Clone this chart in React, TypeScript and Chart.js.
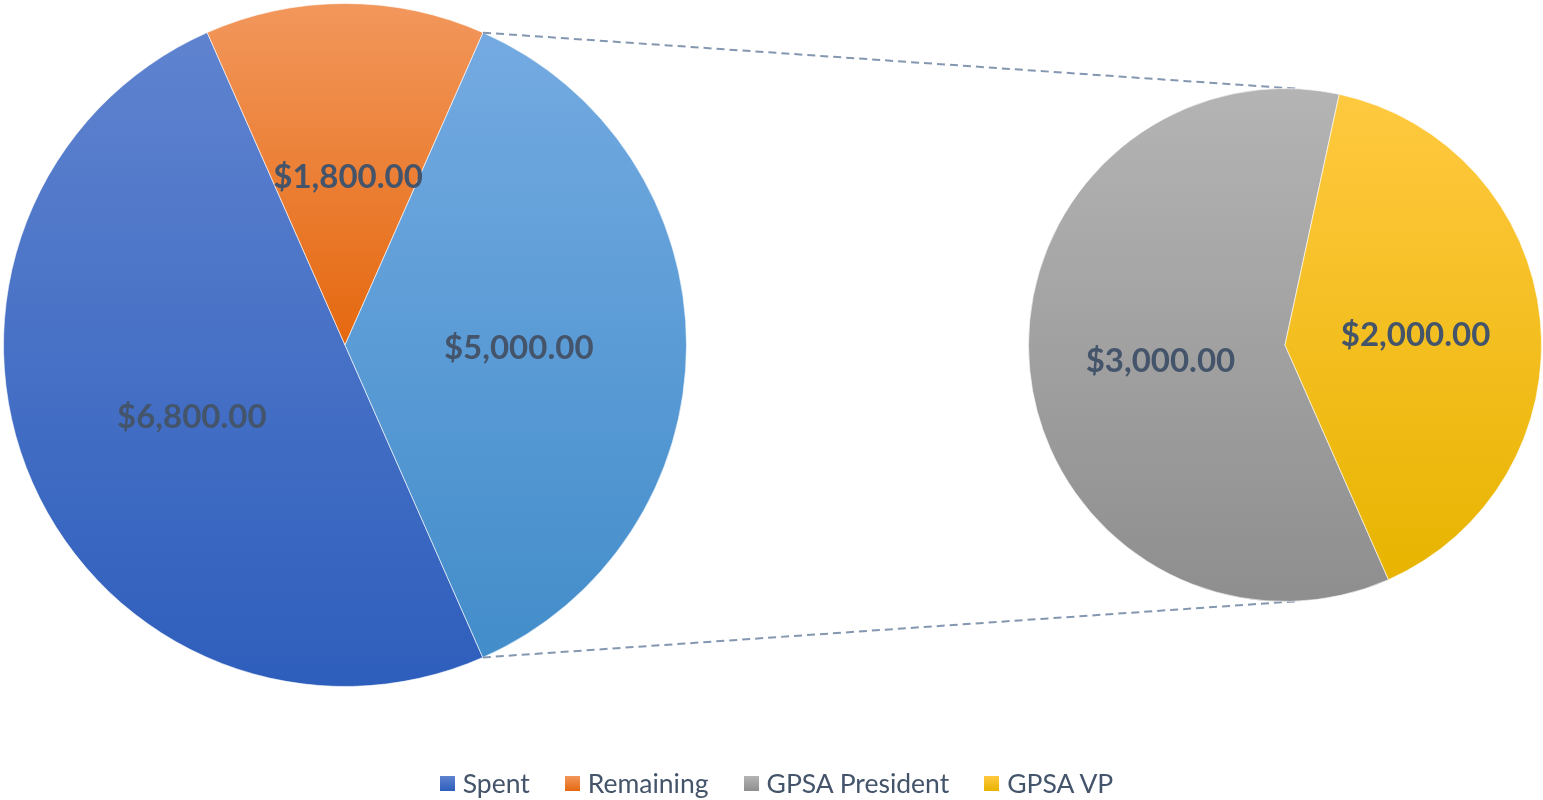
import React, { useEffect, useRef } from "react";
import { Chart, registerables } from "chart.js";

Chart.register(...registerables);

// ---- data ----
const mainLabels = ["Spent", "Remaining", "Other"];
const mainValues = [6800, 1800, 5000];
const subLabels = ["GPSA President", "GPSA VP"];
const subValues = [3000, 2000];
const legendLabels = ["Spent", "Remaining", "GPSA President", "GPSA VP"];

// gradient colours (top, bottom)
const mainColors: [string, string][] = [
  ["#5F83CF", "#2E5EBC"],
  ["#F2975C", "#E5680F"],
  ["#74AAE1", "#428DCA"],
];
const subColors: [string, string][] = [
  ["#B4B4B4", "#8E8E8E"],
  ["#FFC940", "#E8B400"],
];
const legendColors: [string, string][] = [mainColors[0], mainColors[1], subColors[0], subColors[1]];

const W = 1543;
const H = 800;
const ROTATION = 156.2;
const LABEL_COLOR = "#44546A";
const FONT = "Lato, 'Open Sans', sans-serif";

function fmt(v: number) {
  return "$" + v.toLocaleString("en-US", { minimumFractionDigits: 2, maximumFractionDigits: 2 });
}

function sliceGradient(values: number[], colors: [string, string][], rotation: number) {
  return (ctx: any) => {
    const chart = ctx.chart;
    const area = chart.chartArea;
    const i = ctx.dataIndex;
    if (!area || i === undefined) return colors[i ?? 0][0];
    const cx = (area.left + area.right) / 2;
    const cy = (area.top + area.bottom) / 2;
    const r = Math.min(area.right - area.left, area.bottom - area.top) / 2;
    const total = values.reduce((a, b) => a + b, 0);
    let cum = 0;
    for (let k = 0; k < i; k++) cum += values[k];
    const a0 = (rotation * Math.PI) / 180 - Math.PI / 2 + (cum / total) * 2 * Math.PI;
    const a1 = a0 + (values[i] / total) * 2 * Math.PI;
    const ys = [cy, cy + r * Math.sin(a0), cy + r * Math.sin(a1)];
    const contains = (t: number) => {
      let x = t;
      while (x < a0) x += 2 * Math.PI;
      return x <= a1;
    };
    if (contains(Math.PI / 2)) ys.push(cy + r);
    if (contains(-Math.PI / 2)) ys.push(cy - r);
    const y0 = Math.min(...ys);
    const y1 = Math.max(...ys);
    const g = chart.ctx.createLinearGradient(0, y0, 0, y1);
    g.addColorStop(0, colors[i][0]);
    g.addColorStop(1, colors[i][1]);
    return g;
  };
}

const labelPlugin = {
  id: "sliceLabels",
  afterDatasetsDraw(chart: any) {
    const ctx = chart.ctx;
    const meta = chart.getDatasetMeta(0);
    const data = chart.data.datasets[0].data as number[];
    ctx.save();
    ctx.font = `bold 33px ${FONT}`;
    ctx.fillStyle = LABEL_COLOR;
    ctx.textAlign = "center";
    ctx.textBaseline = "middle";
    meta.data.forEach((arc: any, i: number) => {
      const p = arc.getCenterPoint();
      ctx.fillText(fmt(data[i]), p.x + 3, p.y + 3);
    });
    ctx.restore();
  },
};

export default function App() {
  const mainRef = useRef<HTMLCanvasElement>(null);
  const subRef = useRef<HTMLCanvasElement>(null);

  useEffect(() => {
    document.body.style.margin = "0";
    const mainChart = new Chart(mainRef.current!, {
      type: "pie",
      data: {
        labels: mainLabels,
        datasets: [
          {
            data: mainValues,
            backgroundColor: sliceGradient(mainValues, mainColors, ROTATION),
            borderColor: "rgba(255,255,255,0.6)",
            borderWidth: 1,
          },
        ],
      },
      options: {
        responsive: false,
        animation: false,
        rotation: ROTATION,
        layout: { padding: { left: 3, top: 3, right: W - 687, bottom: H - 687 } },
        plugins: { legend: { display: false }, tooltip: { enabled: false } },
      },
      plugins: [labelPlugin],
    });

    const connectorPlugin = {
      id: "connectors",
      beforeDatasetsDraw(chart: any) {
        const mMeta = mainChart.getDatasetMeta(0);
        const other: any = mMeta.data[2];
        const sArc: any = chart.getDatasetMeta(0).data[0];
        if (!other || !sArc) return;
        const mx = other.x, my = other.y, mr = other.outerRadius;
        const sx = sArc.x, sy = sArc.y, sr = sArc.outerRadius;
        const off = (3.4 * Math.PI) / 180;
        const starts = [other.startAngle, other.endAngle];
        const ends = [-Math.PI / 2 + off, Math.PI / 2 - off];
        const ctx = chart.ctx;
        ctx.save();
        ctx.strokeStyle = "#8497B0";
        ctx.lineWidth = 2;
        ctx.setLineDash([8, 5]);
        for (let k = 0; k < 2; k++) {
          ctx.beginPath();
          ctx.moveTo(mx + mr * Math.cos(starts[k]), my + mr * Math.sin(starts[k]));
          ctx.lineTo(sx + sr * Math.cos(ends[k]), sy + sr * Math.sin(ends[k]));
          ctx.stroke();
        }
        ctx.restore();
      },
    };

    const subChart = new Chart(subRef.current!, {
      type: "pie",
      data: {
        labels: subLabels,
        datasets: [
          {
            data: subValues,
            backgroundColor: sliceGradient(subValues, subColors, ROTATION),
            borderColor: "rgba(255,255,255,0.6)",
            borderWidth: 1,
          },
        ],
      },
      options: {
        responsive: false,
        animation: false,
        rotation: ROTATION,
        layout: { padding: { left: 1028, top: 88, right: W - 1542, bottom: H - 602 } },
        plugins: { legend: { display: false }, tooltip: { enabled: false } },
      },
      plugins: [labelPlugin, connectorPlugin],
    });

    return () => {
      subChart.destroy();
      mainChart.destroy();
    };
  }, []);

  return (
    <div style={{ position: "relative", width: W, height: H, overflow: "hidden", background: "#fff" }}>
      <canvas ref={mainRef} width={W} height={H} style={{ position: "absolute", left: 0, top: 0 }} />
      <canvas ref={subRef} width={W} height={H} style={{ position: "absolute", left: 0, top: 0 }} />
      <div
        style={{
          position: "absolute",
          left: 5,
          width: W,
          top: 768,
          display: "flex",
          justifyContent: "center",
          alignItems: "center",
          fontFamily: FONT,
          fontSize: 26.5,
          color: "#44546A",
          gap: 35,
        }}
      >
        {legendLabels.map((l, i) => (
          <div key={l} style={{ display: "flex", alignItems: "center" }}>
            <span
              style={{
                display: "inline-block",
                width: 15,
                height: 15,
                marginRight: 8,
                background: `linear-gradient(${legendColors[i][0]}, ${legendColors[i][1]})`,
              }}
            />
            <span style={{ lineHeight: "30px" }}>{l}</span>
          </div>
        ))}
      </div>
    </div>
  );
}
